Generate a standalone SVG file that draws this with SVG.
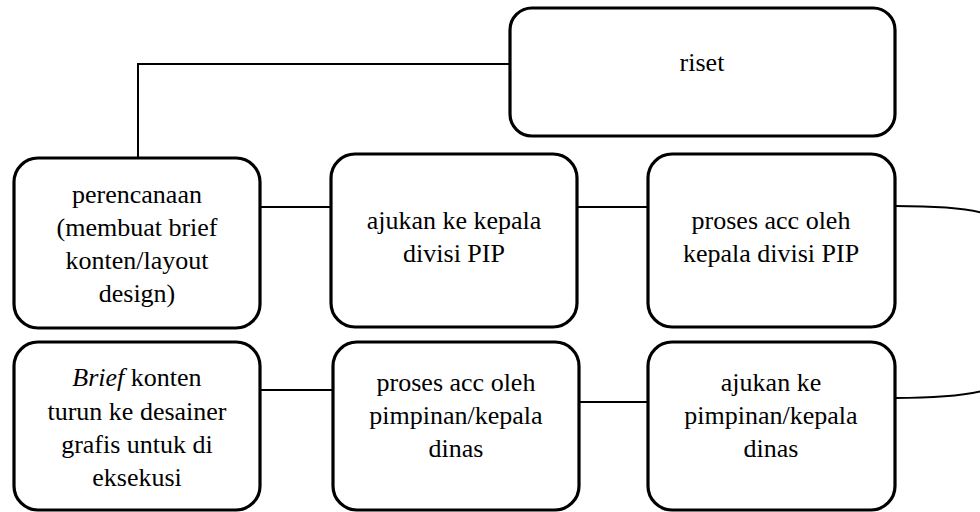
<svg xmlns="http://www.w3.org/2000/svg" width="980" height="512" viewBox="0 0 980 512">
<style>
.box{fill:#fff;stroke:#000;stroke-width:3.2}
.conn{fill:none;stroke:#000;stroke-width:2}
text{font-family:'Liberation Serif','DejaVu Serif','Times New Roman',serif;font-size:26px;fill:#000;text-anchor:middle}
</style>
<rect width="980" height="512" fill="#fff"/>
<g id="connectors">
<path class="conn" d="M510,64 H138 V158"/>
<path class="conn" d="M260,207 H331"/>
<path class="conn" d="M577,207 H648"/>
<path class="conn" d="M895,206 C930,206 965,207 986,214 V390 C965,396 930,398 895,398"/>
<path class="conn" d="M260,390 H333"/>
<path class="conn" d="M579,402 H648"/>
</g>
<g id="riset">
<rect class="box" x="510" y="8" width="385" height="128" rx="22"/>
<text x="702" y="71">riset</text>
</g>
<g id="perencanaan">
<rect class="box" x="14" y="158" width="246" height="170" rx="24"/>
<text x="137" y="203">perencanaan</text>
<text x="137" y="236">(membuat brief</text>
<text x="137" y="269">konten/layout</text>
<text x="137" y="302">design)</text>
</g>
<g id="ajukan-pip">
<rect class="box" x="331" y="154" width="246" height="173" rx="24"/>
<text x="454" y="229">ajukan ke kepala</text>
<text x="454" y="262">divisi PIP</text>
</g>
<g id="proses-pip">
<rect class="box" x="648" y="154" width="247" height="173" rx="24"/>
<text x="771" y="229">proses acc oleh</text>
<text x="771" y="262">kepala divisi PIP</text>
</g>
<g id="brief">
<rect class="box" x="14" y="342" width="246" height="168" rx="24"/>
<text x="137" y="386"><tspan font-style="italic">Brief</tspan> konten</text>
<text x="137" y="420">turun ke desainer</text>
<text x="137" y="453">grafis untuk di</text>
<text x="137" y="486">eksekusi</text>
</g>
<g id="proses-pimpinan">
<rect class="box" x="333" y="342" width="246" height="168" rx="24"/>
<text x="456" y="391">proses acc oleh</text>
<text x="456" y="424">pimpinan/kepala</text>
<text x="456" y="457">dinas</text>
</g>
<g id="ajukan-pimpinan">
<rect class="box" x="648" y="342" width="247" height="168" rx="24"/>
<text x="771" y="391">ajukan ke</text>
<text x="771" y="424">pimpinan/kepala</text>
<text x="771" y="457">dinas</text>
</g>
</svg>
